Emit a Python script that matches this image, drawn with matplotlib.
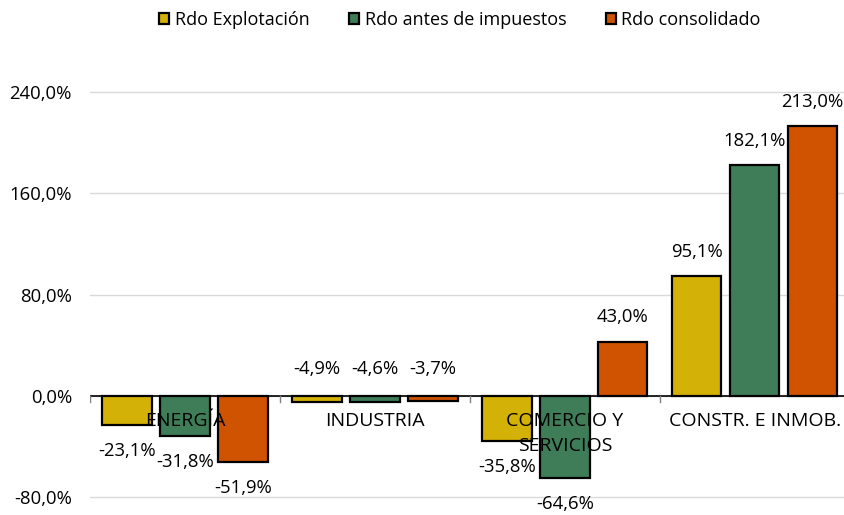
import numpy as np
import matplotlib.pyplot as plt
from matplotlib.patches import Patch

plt.rcParams['font.family'] = ['Open Sans', 'DejaVu Sans']

categorias = ['ENERGÍA', 'INDUSTRIA', 'COMERCIO Y\nSERVICIOS', 'CONSTR. E INMOB.']
series = ['Rdo Explotación', 'Rdo antes de impuestos', 'Rdo consolidado']
rdo_explotacion = [-23.1, -4.9, -35.8, 95.1]
rdo_antes_imp = [-31.8, -4.6, -64.6, 182.1]
rdo_consolidado = [-51.9, -3.7, 43.0, 213.0]
colores = ['#D4B106', '#3E7D58', '#CF5300']

fig = plt.figure(figsize=(8.44, 5.15), dpi=100)
ax = fig.add_axes([90 / 844, 0, 754 / 844, 473.5 / 515])

x = np.arange(len(categorias))
offsets = [-0.305, 0, 0.305]
valores = [rdo_explotacion, rdo_antes_imp, rdo_consolidado]
fs = 13.3

for serie, vals, off, col in zip(series, valores, offsets, colores):
    ax.bar(x + off, vals, width=0.26, color=col, edgecolor='black', linewidth=1.6, zorder=3)
    for xi, v in zip(x + off, vals):
        txt = f'{v:.1f}%'.replace('.', ',')
        if v >= 0:
            ax.text(xi, v + 19, txt, ha='center', va='center', fontsize=fs, zorder=4)
        elif v > -10:
            ax.text(xi, 21, txt, ha='center', va='center', fontsize=fs, zorder=4)
        else:
            ax.text(xi, v - 20.5, txt, ha='center', va='center', fontsize=fs, zorder=4)

for xi, cat in zip(x, categorias):
    ax.text(xi, -13, cat, ha='center', va='top', fontsize=14, linespacing=1.5, zorder=5)

ax.set_xlim(-0.5, 3.47)
ax.set_ylim(-94, 280)
ax.set_yticks([-80, 0, 80, 160, 240])
ax.set_yticklabels([f'{t:.1f}%'.replace('.', ',') for t in [-80, 0, 80, 160, 240]], fontsize=fs)
ax.set_xticks([])
ax.grid(axis='y', color='#d9d9d9', linewidth=1, zorder=0)
ax.axhline(0, color='black', linewidth=1.2, zorder=4)
for b in [-0.5, 0.5, 1.5, 2.5]:
    ax.plot([b, b], [0, -5], color='#808080', linewidth=1, zorder=4)
ax.tick_params(axis='y', length=0, pad=13)
for s in ax.spines.values():
    s.set_visible(False)

handles = [Patch(facecolor=c, edgecolor='black', linewidth=1.6) for c in colores]
fig.legend(handles, series, loc='center', bbox_to_anchor=(460 / 844, 1 - 20 / 515), ncol=3,
           frameon=False, fontsize=13, handlelength=0.55, handleheight=0.55,
           handletextpad=0.3, columnspacing=2.2)

fig.savefig('out.png', dpi=100)
